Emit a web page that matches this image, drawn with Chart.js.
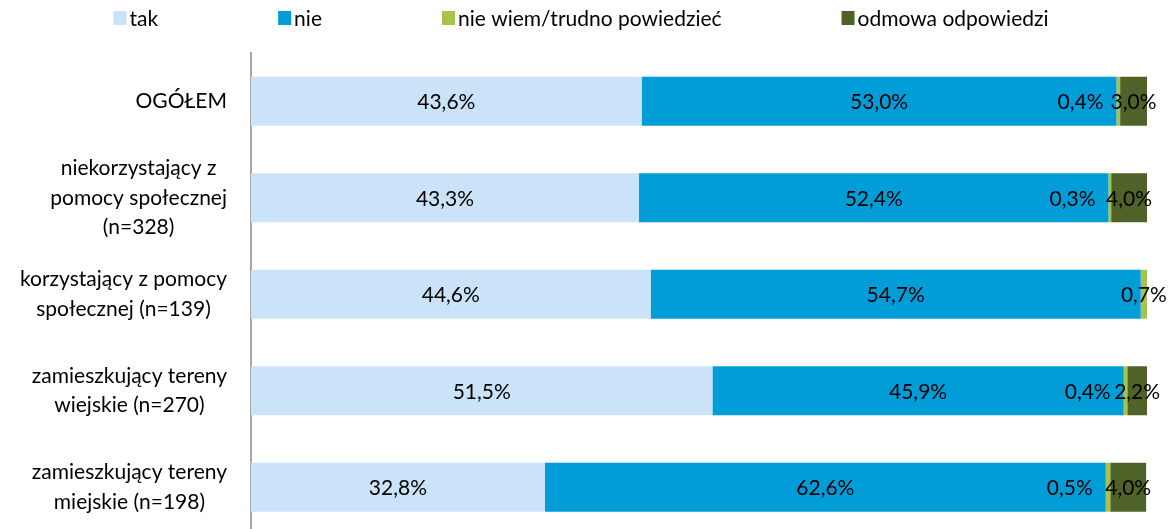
<!DOCTYPE html>
<html>
<head>
<meta charset="utf-8">
<script src="https://cdn.jsdelivr.net/npm/chart.js@4/dist/chart.umd.min.js"></script>
<style>
html,body{margin:0;padding:0;background:#fff;overflow:hidden;}
#wrap{width:1172px;height:540px;}
</style>
</head>
<body>
<div id="wrap"><canvas id="c" width="1172" height="540"></canvas></div>
<script>
const categories = [
  ['OGÓŁEM'],
  ['niekorzystający z', 'pomocy społecznej', '(n=328)'],
  ['korzystający z pomocy', 'społecznej (n=139)'],
  ['zamieszkujący tereny', 'wiejskie (n=270)'],
  ['zamieszkujący tereny', 'miejskie (n=198)']
];
const seriesNames = ['tak', 'nie', 'nie wiem/trudno powiedzieć', 'odmowa odpowiedzi'];
const tak = [43.6, 43.3, 44.6, 51.5, 32.8];
const nie = [53.0, 52.4, 54.7, 45.9, 62.6];
const nieWiem = [0.4, 0.3, 0.7, 0.4, 0.5];
const odmowa = [3.0, 4.0, 0, 2.2, 4.0];
const colors = ['#CBE3F8', '#009DD9', '#A6C44A', '#4F6228'];

const FONT_FAMILY = 'Lato, "Open Sans", sans-serif';
const FONT_SIZE = 21;
const FONT = FONT_SIZE + 'px ' + FONT_FAMILY;

function fmt(v) { return v.toFixed(1).replace('.', ',') + '%'; }

const labelsPlugin = {
  id: 'customLabels',
  afterDatasetsDraw(chart) {
    const ctx = chart.ctx;
    ctx.save();
    ctx.font = FONT;
    ctx.fillStyle = '#000';
    ctx.textBaseline = 'middle';
    chart.data.datasets.forEach((ds, di) => {
      const meta = chart.getDatasetMeta(di);
      meta.data.forEach((bar, i) => {
        const v = ds.data[i];
        if (!v) return;
        const left = Math.min(bar.x, bar.base);
        const right = Math.max(bar.x, bar.base);
        const y = bar.y + 1;
        if (di === 2 && chart.data.datasets[3].data[i] > 0) {
          ctx.textAlign = 'right';
          ctx.fillText(fmt(v), left - 13, y);
        } else {
          ctx.textAlign = 'center';
          ctx.fillText(fmt(v), (left + right) / 2, y);
        }
      });
    });
    // category labels
    const yScale = chart.scales.y;
    const rightEdge = 227;
    const lh = 29.5;
    categories.forEach((lines, i) => {
      const cy = yScale.getPixelForValue(i);
      let w = 0;
      lines.forEach(l => { w = Math.max(w, ctx.measureText(l).width); });
      const cx = rightEdge - w / 2;
      ctx.textAlign = 'center';
      lines.forEach((l, k) => {
        ctx.fillText(l, cx, cy + (k - (lines.length - 1) / 2) * lh);
      });
    });
    // legend
    const box = 13, gapBox = 3, gapItem = 120;
    const widths = seriesNames.map(n => ctx.measureText(n).width);
    let total = widths.reduce((a, b) => a + b + box + gapBox, 0) + gapItem * (seriesNames.length - 1);
    let x = 581 - total / 2;
    const ly = 18;
    seriesNames.forEach((n, k) => {
      ctx.fillStyle = colors[k];
      ctx.fillRect(x, ly - 7, box, 14);
      ctx.fillStyle = '#000';
      ctx.textAlign = 'left';
      ctx.fillText(n, x + box + gapBox, ly + 1);
      x += box + gapBox + widths[k] + gapItem;
    });
    ctx.restore();
  }
};

const datasets = [tak, nie, nieWiem, odmowa].map((d, k) => ({
  label: seriesNames[k],
  data: d,
  backgroundColor: colors[k],
  borderWidth: 0,
  barPercentage: 0.51,
  categoryPercentage: 1.0
}));

new Chart(document.getElementById('c'), {
  type: 'bar',
  data: { labels: categories.map(c => c.join(' ')), datasets },
  options: {
    indexAxis: 'y',
    responsive: false,
    animation: false,
    devicePixelRatio: 1,
    layout: { padding: { top: 53, right: 25, bottom: 4.5, left: 0 } },
    plugins: { legend: { display: false }, tooltip: { enabled: false } },
    scales: {
      x: { stacked: true, min: 0, max: 100, display: false },
      y: {
        stacked: true,
        grid: { display: false, drawTicks: false },
        border: { display: true, color: '#A6A6A6', width: 2 },
        ticks: { display: false },
        afterFit(s) { s.width = 251; }
      }
    }
  },
  plugins: [labelsPlugin]
});
</script>
</body>
</html>
